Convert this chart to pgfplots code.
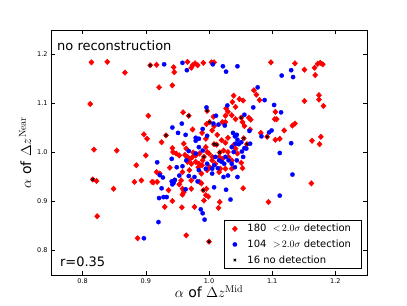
\documentclass[border=0pt]{standalone}
\usepackage{pgfplots}
\pgfplotsset{compat=1.18}
\usepackage[no-math]{fontspec}
\setmainfont{DejaVu Sans}
\begin{document}
\begin{tikzpicture}
\begin{axis}[
  scale only axis, width=316pt, height=245pt,
  xmin=0.75, xmax=1.25, ymin=0.75, ymax=1.25,
  xtick={0.8,0.9,1.0,1.1,1.2}, ytick={0.8,0.9,1.0,1.1,1.2},
  minor tick num=0,
  tick align=inside, major tick length=4pt,
  xtick pos=both, ytick pos=both,
  axis line style={line width=0.8pt},
  tick style={line width=0.5pt, black},
  /pgf/number format/assume math mode=true,
  /pgf/number format/.cd, fixed, precision=1, fixed zerofill, /pgfplots/.cd,
  tick label style={font=\fontsize{6.5}{7}\selectfont},
  xlabel={$\alpha$ of $\Delta z^{\mathrm{Mid}}$},
  ylabel={$\alpha$ of $\Delta z^{\mathrm{Near}}$},
  label style={font=\fontsize{14}{16}\selectfont},
  xlabel style={yshift=5pt},
  ylabel style={yshift=-1pt},
  legend style={at={(rel axis cs:0.982,0.025)}, anchor=south east, draw=black, line width=0.6pt,
    font=\fontsize{10}{12}\selectfont, row sep=2.5pt, inner xsep=8pt, inner ysep=2pt},
  legend cell align=left,
  clip=false,
]
\coordinate (sw) at (rel axis cs:0,0);
\coordinate (ne) at (rel axis cs:1,1);
% red: < 2 sigma detection (180)
\addplot[only marks, mark=diamond*, mark size=2.7pt, draw=red, fill=red, mark options={line width=0.5pt, xscale=1.25}] coordinates {
(0.814,1.184)(0.839,1.185)(0.867,1.163)(0.907,1.178)(0.917,1.179)(0.921,1.133)(0.944,1.174)(0.945,1.164)(0.942,1.137)(0.966,1.185)
(0.972,1.173)(0.974,1.178)(0.978,1.182)(0.982,1.178)(0.991,1.183)(1.004,1.184)(1.008,1.184)(1.098,1.184)(1.136,1.182)(1.151,1.169)
(1.167,1.173)(1.168,1.158)(1.172,1.181)(1.176,1.183)(1.180,1.180)(1.174,1.117)(1.174,1.108)(1.151,1.105)(1.181,1.095)
(0.812,1.099)(0.904,1.075)(0.959,1.082)(0.968,1.075)(0.997,1.085)(1.001,1.062)(0.996,1.058)(1.007,1.073)(1.008,1.054)(1.021,1.062)
(1.026,1.062)(1.027,1.090)(1.030,1.083)(1.036,1.076)(1.039,1.116)(1.037,1.103)(1.042,1.093)(1.048,1.109)(1.054,1.106)(1.051,1.071)
(1.042,1.068)(1.063,1.071)(1.066,1.067)(1.071,1.127)(1.075,1.118)(1.080,1.107)(1.105,1.083)(1.104,1.068)(1.107,1.068)(1.132,1.055)
(1.136,1.059)(1.119,1.045)(1.065,1.047)(0.974,1.047)(0.897,1.037)(0.902,1.028)(0.932,1.035)(0.925,1.021)
(1.026,1.075)(1.053,1.062)(1.056,1.054)(0.989,1.040)(0.995,1.028)(1.092,1.032)(1.082,1.040)(1.105,1.026)(1.112,1.028)(1.163,1.024)
(1.177,1.032)(1.175,1.017)(1.162,0.937)(1.094,0.899)
(0.818,1.006)(0.854,1.004)(0.900,0.994)(0.885,0.974)(0.882,0.940)(0.893,0.943)(0.910,0.940)(0.816,0.945)(0.822,0.942)(0.849,0.926)
(0.823,0.870)(0.887,0.825)
(0.942,1.009)(0.943,1.001)(0.948,0.998)(0.953,0.994)(0.960,1.018)(0.964,1.008)(0.966,0.991)(0.970,0.987)(0.974,0.991)(0.979,0.994)
(0.966,0.981)(0.972,0.977)(0.979,0.981)(0.984,0.977)(0.990,0.984)(0.983,0.970)(0.989,0.974)(0.969,0.964)(0.958,0.960)(0.938,0.969)
(0.917,0.960)(0.922,0.957)(0.912,0.939)(0.918,0.940)(0.945,0.943)(0.956,0.943)(0.972,0.943)(0.995,1.011)(0.997,1.001)(1.000,0.998)
(1.005,0.991)(1.005,0.984)(1.010,0.977)(1.016,0.991)(1.021,0.987)(1.023,1.004)(1.030,1.001)(1.031,0.991)(1.036,0.984)(1.036,0.967)
(1.051,0.979)(1.053,0.968)(1.054,0.927)(1.039,1.015)(1.042,1.008)(1.026,0.967)(1.018,0.967)(1.016,0.960)(1.001,0.970)(0.997,0.964)
(0.988,0.957)(0.992,0.991)(1.008,1.017)(1.017,1.000)(1.012,1.016)(1.055,1.029)(1.060,1.017)
(0.991,0.923)(0.996,0.926)(0.995,0.913)(0.999,0.910)(0.992,0.902)(1.017,0.899)(1.015,0.887)(0.977,0.889)(0.957,0.888)(0.958,0.914)
(0.960,0.919)(0.958,0.926)(0.972,0.926)(0.942,0.901)(0.930,0.889)(0.936,0.923)(0.964,0.831)(1.000,0.818)(0.953,0.935)(0.985,0.940)
(0.988,0.937)
(1.005,1.045)(1.013,1.036)(1.020,1.025)(1.030,1.030)(1.026,1.020)(0.962,0.995)(0.975,1.000)(0.985,0.998)(1.045,0.998)
};
\addlegendentry{\hspace*{8pt}180\ \ $<\!2.0\sigma$ detection}
% blue: > 2 sigma detection (104)
\addplot[only marks, mark=*, mark size=2.2pt, draw=blue, fill=blue, mark options={line width=0.2pt}] coordinates {
(0.929,1.180)(0.958,1.183)(0.965,1.168)(1.006,1.180)(1.022,1.176)(1.027,1.165)(1.045,1.176)(1.115,1.157)(1.130,1.168)(1.133,1.154)
(1.088,1.107)
(0.996,1.092)(1.011,1.075)(1.029,1.096)(1.025,1.055)(1.056,1.077)(1.070,1.092)(1.077,1.133)(1.103,1.097)(1.114,1.082)
(0.942,1.051)(0.957,1.059)(0.951,1.040)(0.963,1.036)(0.990,1.048)(0.979,1.030)(0.979,1.024)(0.984,1.028)(0.997,1.034)(0.968,1.003)
(0.941,0.987)(0.918,0.980)(0.922,0.954)
(1.007,1.059)(1.015,1.057)(1.038,1.040)(1.041,1.033)(1.044,1.036)(1.045,1.026)(1.051,1.021)(1.056,1.009)(1.052,1.002)(1.064,1.044)
(1.083,1.033)(1.095,1.041)(1.099,1.045)
(1.112,0.999)(1.130,1.019)(1.132,0.955)(1.112,0.912)
(0.927,0.949)(0.941,0.941)(0.944,0.938)(0.946,0.944)(0.942,0.935)(0.925,0.927)(0.963,0.925)(0.982,0.941)(1.008,0.929)(1.023,0.950)
(1.030,0.953)(1.027,0.924)(1.034,0.904)(0.921,0.907)(0.928,0.909)(0.933,0.909)(0.987,0.884)(0.990,0.876)(0.993,0.863)(0.920,0.858)
(0.897,0.825)
(0.984,1.011)(0.990,1.004)(0.995,0.967)(1.005,0.967)(1.008,0.974)(0.984,0.964)(1.016,0.984)(1.020,0.981)(1.024,0.977)(1.026,0.991)
(1.031,0.984)(1.036,1.011)(1.039,1.001)(1.042,1.018)(1.047,1.017)(1.036,0.977)(1.044,0.984)(1.054,0.991)(1.059,1.008)(1.065,1.018)
(1.041,0.970)(1.045,0.950)(1.014,0.968)(1.005,0.957)(1.010,0.991)(0.997,0.977)(0.979,0.998)(0.964,0.984)(0.958,0.972)(0.949,0.970)
(0.953,0.953)(0.968,0.952)(0.977,0.950)
};
\addlegendentry{\hspace*{8pt}104\ \ $>\!2.0\sigma$ detection}
% black x: no detection (16)
\addplot[only marks, mark=x, mark size=1.8pt, draw=black, mark options={line width=0.9pt}] coordinates {
(0.907,1.178)(0.968,1.075)(0.997,1.085)(1.001,1.062)(1.051,1.071)(0.932,1.035)(1.055,1.029)(1.060,1.017)
(1.008,1.017)(1.017,1.000)(0.992,0.991)(0.816,0.945)(0.991,0.923)(1.092,1.032)(1.000,0.818)(1.012,1.016)
};
\addlegendentry{\hspace*{8pt}16 no detection}
\node[anchor=base west, font=\fontsize{13}{15}\selectfont, inner sep=0pt] at (rel axis cs:0.019,0.918) {no reconstruction};
\node[anchor=base west, font=\fontsize{13}{15}\selectfont, inner sep=0pt] at (rel axis cs:0.028,0.033) {r=0.35};
\end{axis}
\pgfresetboundingbox
\path[use as bounding box] ([shift={(-51pt,-30pt)}]sw) rectangle ([shift={(40pt,30pt)}]ne);
\end{tikzpicture}
\end{document}
